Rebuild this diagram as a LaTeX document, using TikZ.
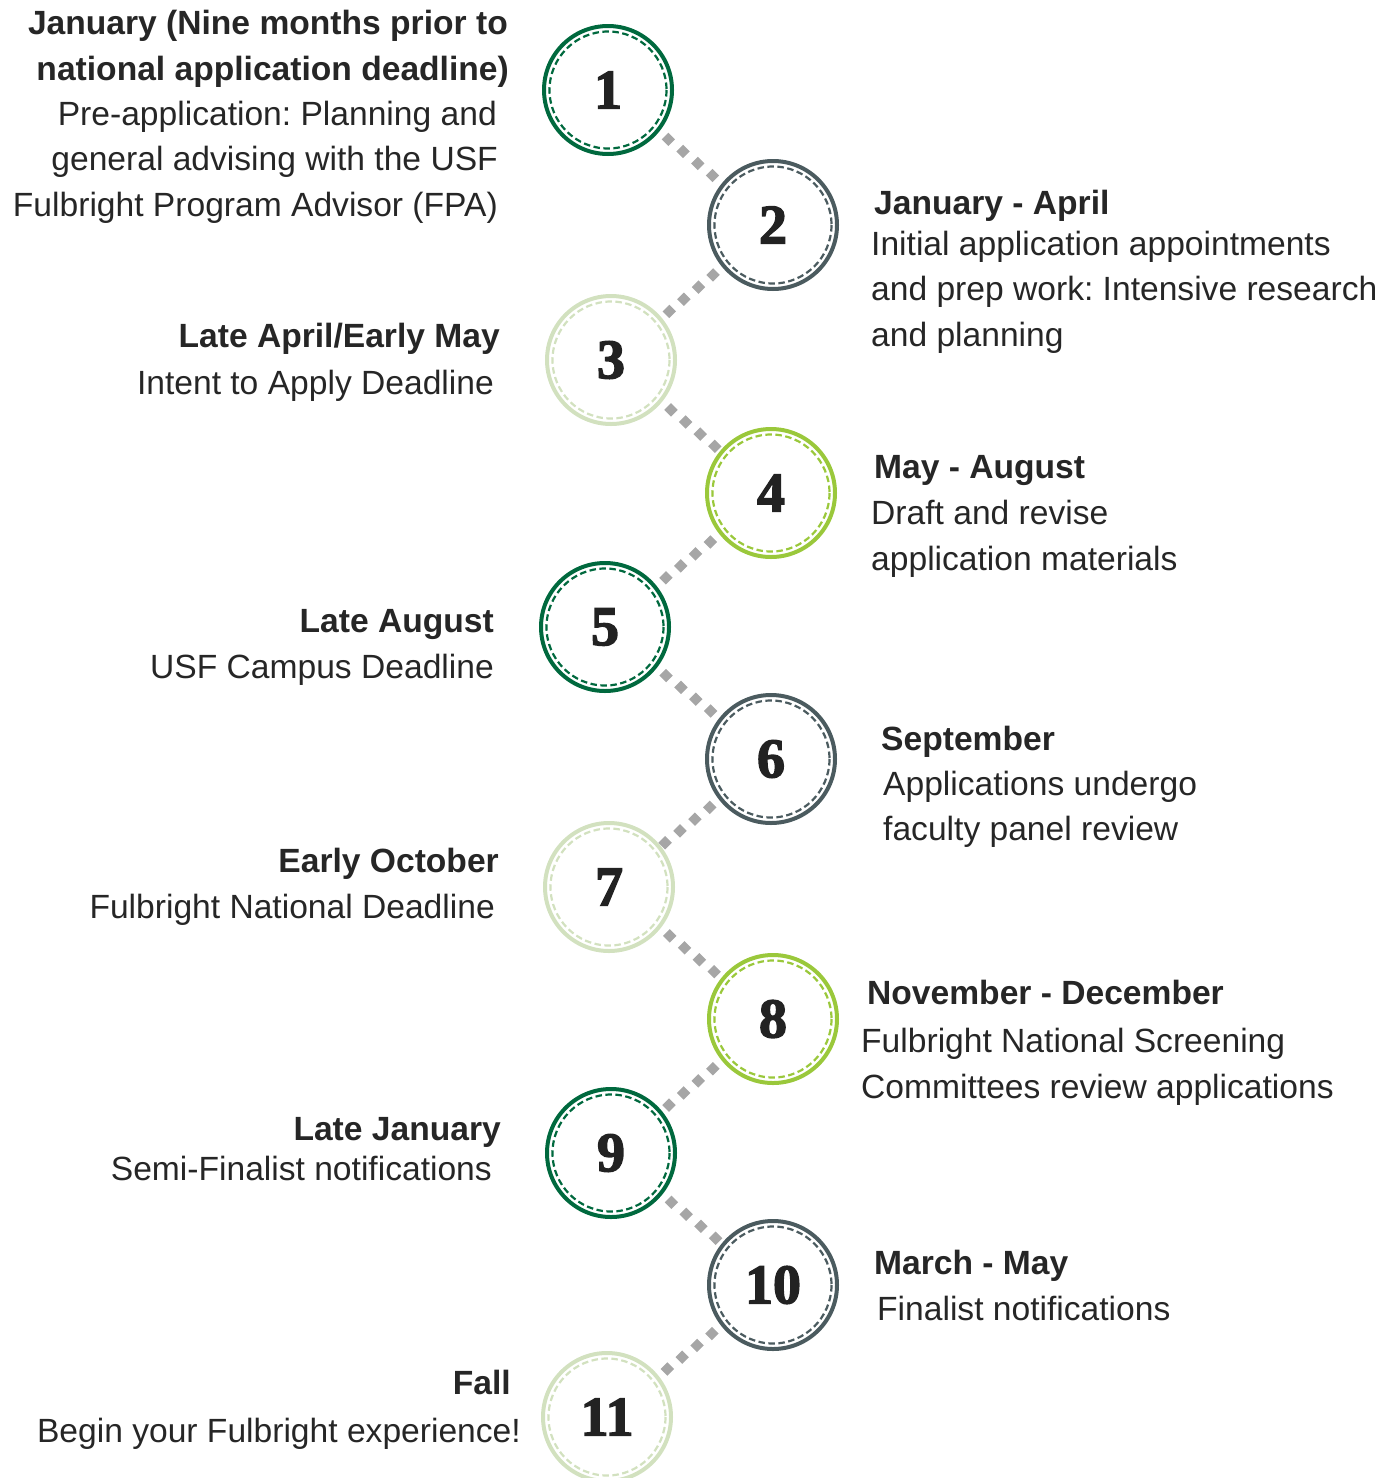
\documentclass[tikz,border=0pt]{standalone}
\usepackage{fontspec}
\setmainfont{Liberation Sans}
\newfontfamily\numfont{Liberation Serif}[BoldFeatures={FakeBold=2.5}]
\usetikzlibrary{decorations.markings}
\definecolor{dkgreen}{HTML}{00693E}
\definecolor{slate}{HTML}{4B5B5F}
\definecolor{pale}{HTML}{D2E1BF}
\definecolor{lime}{HTML}{9AC83B}
\definecolor{dotc}{HTML}{A6A6A6}
\definecolor{txtc}{HTML}{262626}
\definecolor{numc}{HTML}{222222}
\frenchspacing
\begin{document}
\begin{tikzpicture}[x=1pt,y=-1pt,
  txt/.style={inner sep=0, text=txtc, font=\fontsize{33.6}{40}\selectfont},
  ttl/.style={txt, font=\fontsize{33.6}{40}\selectfont\bfseries},
  lft/.style={anchor=base east},
  rgt/.style={anchor=base west},
  stepcirc/.style={circle, draw=#1, line width=4pt, minimum size=128pt, inner sep=0,
    font=\numfont\bfseries\fontsize{56}{56}\selectfont, text=numc},
  innerring/.style={draw=#1, line width=2.2pt, dash pattern=on 6.5pt off 3.5pt},
  sq/.style={fill=dotc, minimum size=9.5pt, inner sep=0, rotate=45},
  conn/.style={decorate, decoration={markings,
    mark=at position 12pt with {\node[sq]{};},
    mark=at position 31pt with {\node[sq]{};},
    mark=at position 50pt with {\node[sq]{};},
    mark=at position 69pt with {\node[sq]{};}}}
]
\useasboundingbox (0,0) rectangle (1394,1478);
\foreach \i/\x/\y/\col in {1/608/90/dkgreen, 2/773/225/slate, 3/611/360/pale,
  4/771/493/lime, 5/605/627/dkgreen, 6/771/759/slate, 7/609/887/pale,
  8/773/1019/lime, 9/611/1153/dkgreen, 10/773/1285/slate, 11/607/1417/pale}{
  \node[stepcirc=\col] (c\i) at (\x,\y) {\i};
  \draw[innerring=\col] (c\i.center) circle[radius=58.5];
}
\foreach \a/\b in {1/2,2/3,3/4,4/5,5/6,6/7,7/8,8/9,9/10,10/11}{
  \path[conn] (c\a) -- (c\b);
}
% left texts
\node[ttl,lft] (t1a) at (508,34) {January (Nine months prior to};
\node[ttl,lft] (t1b) at (509,80) {national application deadline)};
\node[txt,lft] (t1c) at (497,125) {Pre-application: Planning and};
\node[txt,lft] (t1d) at (498,170) {general advising with the USF};
\node[txt,lft] (t1e) at (498,216) {Fulbright Program Advisor (FPA)};
\node[ttl,lft] (t3a) at (500,347) {Late April/Early May};
\node[txt,lft] (t3b) at (494,394) {Intent to Apply Deadline};
\node[ttl,lft] (t5a) at (494,632) {Late August};
\node[txt,lft] (t5b) at (494,678) {USF Campus Deadline};
\node[ttl,lft] (t7a) at (499,872) {Early October};
\node[txt,lft] (t7b) at (495,918) {Fulbright National Deadline};
\node[ttl,lft] (t9a) at (501,1140) {Late January};
\node[txt,lft] (t9b) at (492,1180) {Semi-Finalist notifications};
\node[ttl,lft] (t11a) at (511,1394) {Fall};
\node[txt,lft] (t11b) at (521,1442) {Begin your Fulbright experience!};
% right texts
\node[ttl,rgt] (t2a) at (874,214) {January - April};
\node[txt,rgt] (t2b) at (871,255) {Initial application appointments};
\node[txt,rgt] (t2c) at (871,300) {and prep work: Intensive research};
\node[txt,rgt] (t2d) at (871,346) {and planning};
\node[ttl,rgt] (t4a) at (874,478) {May - August};
\node[txt,rgt] (t4b) at (871,524) {Draft and revise};
\node[txt,rgt] (t4c) at (871,570) {application materials};
\node[ttl,rgt] (t6a) at (881,750) {September};
\node[txt,rgt] (t6b) at (883,795) {Applications undergo};
\node[txt,rgt] (t6c) at (883,840) {faculty panel review};
\node[ttl,rgt] (t8a) at (867,1004) {November - December};
\node[txt,rgt] (t8b) at (861,1052) {Fulbright National Screening};
\node[txt,rgt] (t8c) at (861,1098) {Committees review applications};
\node[ttl,rgt] (t10a) at (874,1274) {March - May};
\node[txt,rgt] (t10b) at (877,1320) {Finalist notifications};
\end{tikzpicture}
\end{document}
